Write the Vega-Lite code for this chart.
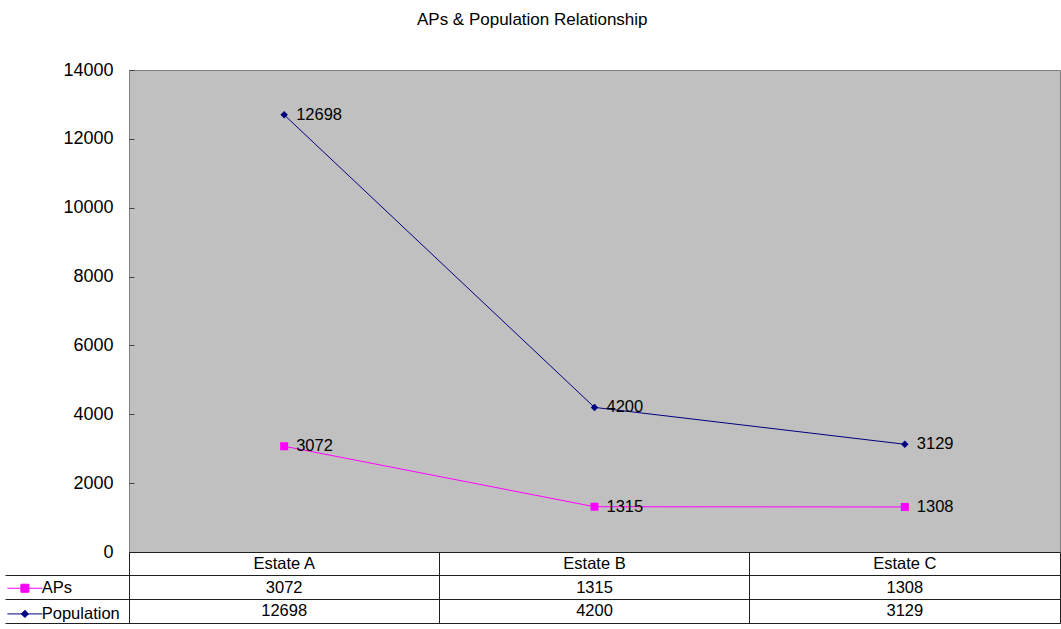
{
  "$schema": "https://vega.github.io/schema/vega-lite/v6.json",
  "padding": {"left": 4, "top": 10, "right": 1, "bottom": 5},
  "title": {"text": "APs & Population  Relationship", "fontSize": 17, "fontWeight": "normal", "color": "black", "offset": 32, "anchor": "middle"},
  "config": {"font": "Liberation Sans", "concat": {"spacing": 0}},
  "spacing": 0,
  "bounds": "flush",
  "data": {"values": [
    {"estate": "Estate A", "series": "APs", "value": 3072},
    {"estate": "Estate B", "series": "APs", "value": 1315},
    {"estate": "Estate C", "series": "APs", "value": 1308},
    {"estate": "Estate A", "series": "Population", "value": 12698},
    {"estate": "Estate B", "series": "Population", "value": 4200},
    {"estate": "Estate C", "series": "Population", "value": 3129}
  ]},
  "resolve": {
    "scale": {"x": "independent", "y": "independent", "shape": "independent", "color": "shared"},
    "legend": {"color": "independent", "shape": "independent"}
  },
  "vconcat": [
    {
      "width": 931,
      "height": 482,
      "view": {"fill": "#C0C0C0", "stroke": "#808080"},
      "encoding": {
        "x": {"field": "estate", "type": "ordinal", "scale": {"type": "point", "padding": 0.5}, "axis": null},
        "y": {"field": "value", "type": "quantitative", "scale": {"domain": [0, 14000]},
          "axis": {"values": [0, 2000, 4000, 6000, 8000, 10000, 12000, 14000], "format": "d", "labelFontSize": 18, "labelColor": "black", "domain": false, "grid": false, "tickSize": -5, "tickColor": "#404040", "labelPadding": 21, "title": null}}
      },
      "layer": [
        {"mark": {"type": "line", "strokeWidth": 1},
          "encoding": {"color": {"field": "series", "type": "nominal", "scale": {"domain": ["APs", "Population"], "range": ["#FF00FF", "#000080"]}, "legend": null}}},
        {"transform": [{"filter": "datum.series === 'APs'"}],
          "mark": {"type": "point", "shape": "square", "filled": true, "size": 64, "color": "#FF00FF", "opacity": 1}},
        {"transform": [{"filter": "datum.series === 'Population'"}],
          "mark": {"type": "point", "shape": "diamond", "filled": true, "size": 56, "color": "#000080", "opacity": 1}},
        {"mark": {"type": "text", "align": "left", "baseline": "middle", "dx": 12, "fontSize": 16.5, "color": "black"},
          "encoding": {"text": {"field": "value", "type": "quantitative", "format": "d"}}}
      ]
    },
    {
      "width": 931,
      "height": 71,
      "view": {"fill": "white", "stroke": "#202020"},
      "encoding": {
        "x": {"field": "estate", "type": "ordinal", "scale": {"type": "band", "paddingInner": 0, "paddingOuter": 0},
          "axis": {"orient": "bottom", "bandPosition": 0, "grid": true, "gridColor": "#202020", "gridOpacity": 1, "labels": false, "ticks": false, "domain": false, "title": null}},
        "y": {"field": "series", "type": "ordinal", "scale": {"type": "band", "domain": ["hdr", "APs", "Population"], "paddingInner": 0, "paddingOuter": 0},
          "axis": {"bandPosition": 1, "grid": true, "gridColor": "#202020", "gridOpacity": 1, "ticks": true, "tickSize": 124, "tickColor": "#202020", "labels": false, "domain": false, "title": null}}
      },
      "layer": [
        {"mark": {"type": "text", "fontSize": 16.5, "color": "black"},
          "encoding": {"text": {"field": "value", "type": "quantitative", "format": "d"}}},
        {"transform": [{"filter": "datum.series === 'APs'"}],
          "mark": {"type": "text", "fontSize": 16.5, "color": "black"},
          "encoding": {"y": {"datum": "hdr", "type": "ordinal"}, "text": {"field": "estate", "type": "nominal"}}},
        {"mark": {"type": "point", "filled": true, "opacity": 0},
          "encoding": {
            "color": {"field": "series", "type": "nominal",
              "legend": {"orient": "none", "legendX": -124, "legendY": 28, "title": null, "padding": 0, "symbolSize": 144, "symbolOffset": 11.65, "labelOffset": 8.6, "labelFontSize": 16.5, "labelColor": "black", "rowPadding": 8.67, "symbolOpacity": 1, "symbolStrokeWidth": 1,
                "encode": {"symbols": {"update": {"stroke": {"scale": "color", "field": "value"}, "fill": {"scale": "color", "field": "value"}, "opacity": {"value": 1}, "strokeWidth": {"value": 1}}}}}},
            "shape": {"field": "series", "type": "nominal",
              "scale": {"domain": ["APs", "Population"], "range": ["M-2.92,0H2.92M-0.67,-0.67H0.67V0.67H-0.67Z", "M-2.92,0H2.92M0,-0.6L0.6,0L0,0.6L-0.6,0Z"]},
              "legend": {"orient": "none", "legendX": -124, "legendY": 28, "title": null, "padding": 0, "symbolSize": 144, "symbolOffset": 11.65, "labelOffset": 8.6, "labelFontSize": 16.5, "labelColor": "black", "rowPadding": 8.67, "symbolOpacity": 1, "symbolStrokeWidth": 1,
                "encode": {"symbols": {"update": {"stroke": {"scale": "color", "field": "value"}, "fill": {"scale": "color", "field": "value"}, "opacity": {"value": 1}, "strokeWidth": {"value": 1}}}}}}
          }}
      ]
    }
  ]
}
